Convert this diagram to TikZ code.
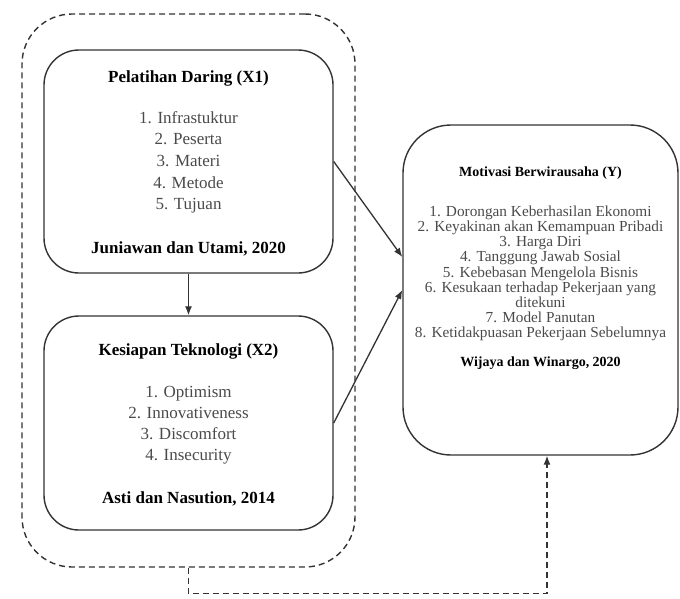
\documentclass[tikz,border=0pt]{standalone}
\usepackage{fontspec}
\setmainfont{Liberation Serif}
\usetikzlibrary{arrows.meta,calc}
\definecolor{linec}{HTML}{333333}
\definecolor{itemc}{HTML}{4A4A4A}
\begin{document}
\begin{tikzpicture}[x=1pt,y=-1pt,
  varbox/.style={draw=linec,line width=1.4pt,rounded corners=35pt,inner sep=0pt},
  ybox/.style={draw=linec,line width=1.4pt,rounded corners=48pt,inner sep=0pt},
  grpbox/.style={draw=linec,line width=1.4pt,dash pattern=on 6pt off 4pt,rounded corners=50pt,inner sep=0pt},
  ttl/.style={anchor=base,inner sep=0pt,font=\fontsize{17}{20}\selectfont\bfseries},
  itm/.style={anchor=base,inner sep=0pt,text=itemc,font=\fontsize{17}{20}\selectfont},
  yttl/.style={anchor=base,inner sep=0pt,font=\fontsize{14}{16}\selectfont\bfseries},
  yitm/.style={anchor=base,inner sep=0pt,text=itemc,font=\fontsize{15.3}{16}\selectfont},
  conn/.style={draw=linec,line width=1.3pt,-{Latex[length=9pt,width=7pt]}},
  dconn/.style={draw=linec,line width=1.3pt,dash pattern=on 6pt off 4pt,-{Latex[length=9pt,width=7pt]}}
]
\useasboundingbox (0,0) rectangle (680,598);

% group (dashed)
\node[grpbox,minimum width=333pt,minimum height=553pt] (grp) at (188.5,290.5) {};

% X1
\node[varbox,minimum width=289pt,minimum height=223pt] (x1) at (188.5,161.5) {};
\node[ttl] (x1t) at (188.5,82) {Pelatihan Daring (X1)};
\foreach \t [count=\i] in {1. Infrastuktur,2. Peserta,3. Materi,4. Metode,5. Tujuan}
  \node[itm] (x1i\i) at (188.5,{123+21.7*(\i-1)}) {\t};
\node[ttl] (x1f) at (188.5,253) {Juniawan dan Utami, 2020};

% X2
\node[varbox,minimum width=289pt,minimum height=214pt] (x2) at (188.5,423) {};
\node[ttl] (x2t) at (188.5,355) {Kesiapan Teknologi (X2)};
\foreach \t [count=\i] in {1. Optimism,2. Innovativeness,3. Discomfort,4. Insecurity}
  \node[itm] (x2i\i) at (188.5,{397+21*(\i-1)}) {\t};
\node[ttl] (x2f) at (188.5,503) {Asti dan Nasution, 2014};

% Y
\node[ybox,minimum width=275pt,minimum height=330pt] (y) at (540.5,290) {};
\node[yttl] (yt) at (540.5,176) {Motivasi Berwirausaha (Y)};
\foreach \t [count=\i] in {1. Dorongan Keberhasilan Ekonomi,2. Keyakinan akan Kemampuan Pribadi,3. Harga Diri,4. Tanggung Jawab Sosial,5. Kebebasan Mengelola Bisnis,6. Kesukaan terhadap Pekerjaan yang,ditekuni,7. Model Panutan,8. Ketidakpuasan Pekerjaan Sebelumnya}
  \node[yitm] (yi\i) at (540.5,{216.5+15.15*(\i-1)}) {\t};
\node[yttl] (yf) at (540.5,366) {Wijaya dan Winargo, 2020};

% connectors
\draw[conn] (x1.south) -- (x2.north);
\draw[conn] (x1.east) -- ([yshift=33pt]y.west);
\draw[conn] (x2.east) -- (y.west);
\coordinate (dturn) at ($(grp.south)+(0,26)$);
\draw[dconn] (grp.south) -- (dturn) -| ([xshift=6.5pt]y.south);
\end{tikzpicture}
\end{document}
